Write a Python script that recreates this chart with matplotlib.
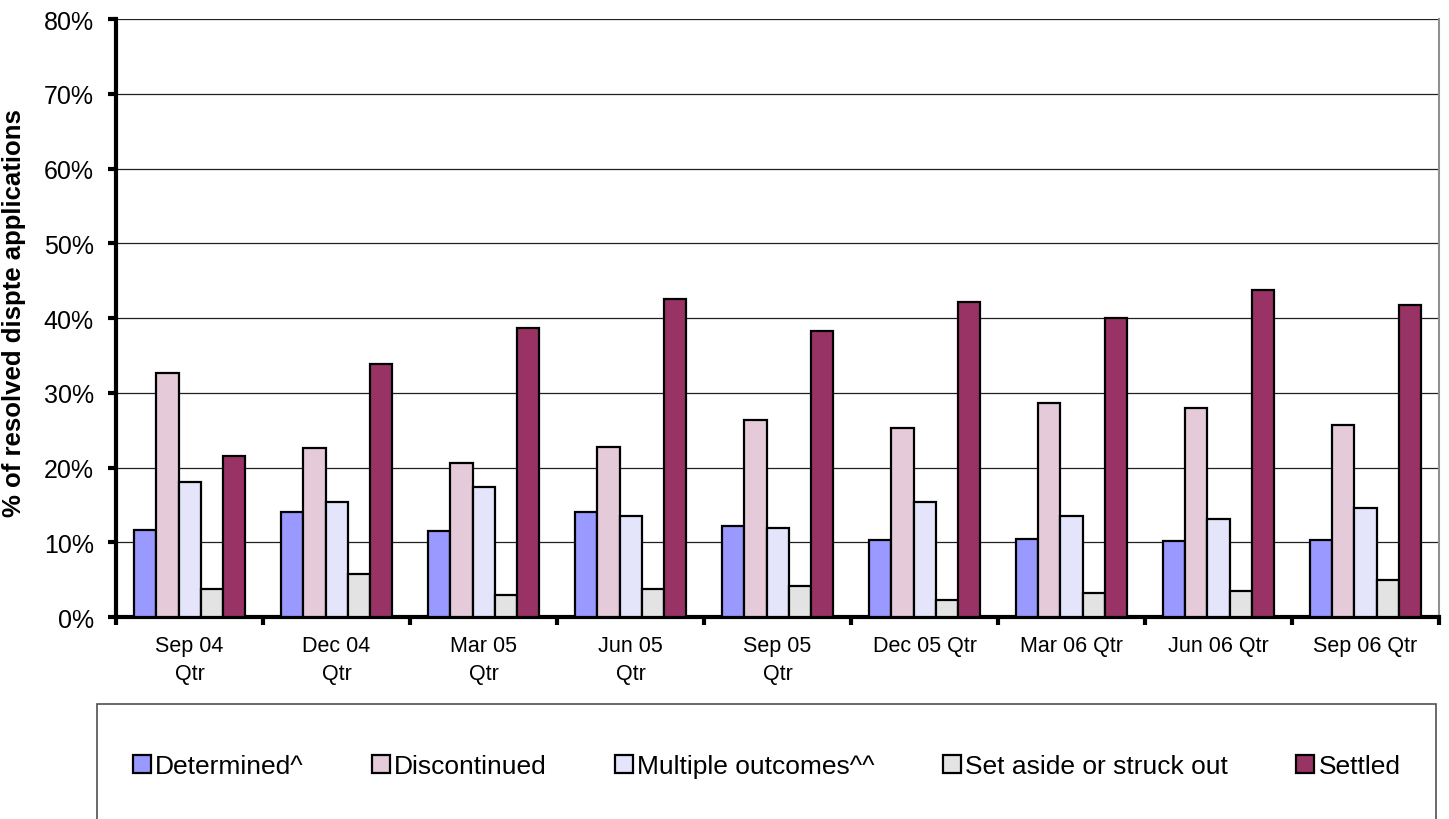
import matplotlib
matplotlib.use('Agg')
import matplotlib.pyplot as plt
from matplotlib.patches import Rectangle
import numpy as np

plt.rcParams['font.family'] = ['Liberation Sans', 'DejaVu Sans']

quarters = ['Sep 04\nQtr', 'Dec 04\nQtr', 'Mar 05\nQtr', 'Jun 05\nQtr', 'Sep 05\nQtr',
            'Dec 05 Qtr', 'Mar 06 Qtr', 'Jun 06 Qtr', 'Sep 06 Qtr']
series = ['Determined^', 'Discontinued', 'Multiple outcomes^^', 'Set aside or struck out', 'Settled']

# % of resolved dispute applications
determined = [11.7, 14.0, 11.5, 14.1, 12.2, 10.3, 10.5, 10.2, 10.3]
discontinued = [32.6, 22.6, 20.6, 22.8, 26.3, 25.3, 28.6, 28.0, 25.7]
multiple = [18.0, 15.4, 17.4, 13.5, 11.9, 15.4, 13.5, 13.1, 14.6]
set_aside = [3.8, 5.8, 2.9, 3.7, 4.1, 2.3, 3.2, 3.5, 4.9]
settled = [21.6, 33.9, 38.7, 42.5, 38.3, 42.1, 40.0, 43.8, 41.8]

colours = ['#9999FF', '#E5CADA', '#E4E4FB', '#E3E3E3', '#993366']

fig = plt.figure(figsize=(14.49, 8.2), dpi=100)
ax = fig.add_axes([0.0801, 0.2463, 0.913, 0.7293])

x = np.arange(len(quarters))
w = 0.15
for i, (vals, name) in enumerate(zip([determined, discontinued, multiple, set_aside, settled], series)):
    ax.bar(x + (i - 2) * w, vals, w, color=colours[i], edgecolor='black', linewidth=1.6,
           label=name, zorder=3)

ax.set_xlim(-0.5, len(quarters) - 0.5)
ax.set_ylim(0, 80)
ax.set_yticks(np.arange(0, 81, 10))
ax.set_yticklabels(['%d%%' % v for v in range(0, 81, 10)], fontsize=18)
for v in range(10, 81, 10):
    ax.axhline(v, color='#202020', linewidth=0.9, zorder=1)

ax.set_xticks(x)
ax.set_xticklabels(quarters, fontsize=15.5, linespacing=1.45)
ax.set_xticks(np.arange(-0.5, len(quarters), 1), minor=True)
ax.tick_params(axis='x', which='major', length=0, pad=13)
ax.tick_params(axis='x', which='minor', length=6, width=3, direction='out')
ax.tick_params(axis='y', length=6, width=3, direction='out', pad=10)

for s in ['left', 'bottom']:
    ax.spines[s].set_linewidth(3)
    ax.spines[s].set_color('black')
ax.spines['top'].set_visible(False)
ax.spines['right'].set_color('#909090')
ax.spines['right'].set_linewidth(1.5)

ax.set_ylabel('% of resolved dispte applications', fontsize=18.5, fontweight='bold')
ax.yaxis.set_label_coords(-0.068, 0.51)

# legend box at the bottom
fig.patches.append(Rectangle((97 / 1449, -0.01), 1339 / 1449, 1 - 705 / 820 + 0.01,
                             transform=fig.transFigure, fill=False,
                             edgecolor='#505050', linewidth=1.2))
handles, labels = ax.get_legend_handles_labels()
fig.legend(handles, labels, ncol=5, loc='center', bbox_to_anchor=(0.529, 0.0646),
           frameon=False, fontsize=19, handlelength=0.68, handleheight=0.68,
           handletextpad=0.15, columnspacing=2.6, borderpad=0)

fig.savefig('out.png', dpi=100)
